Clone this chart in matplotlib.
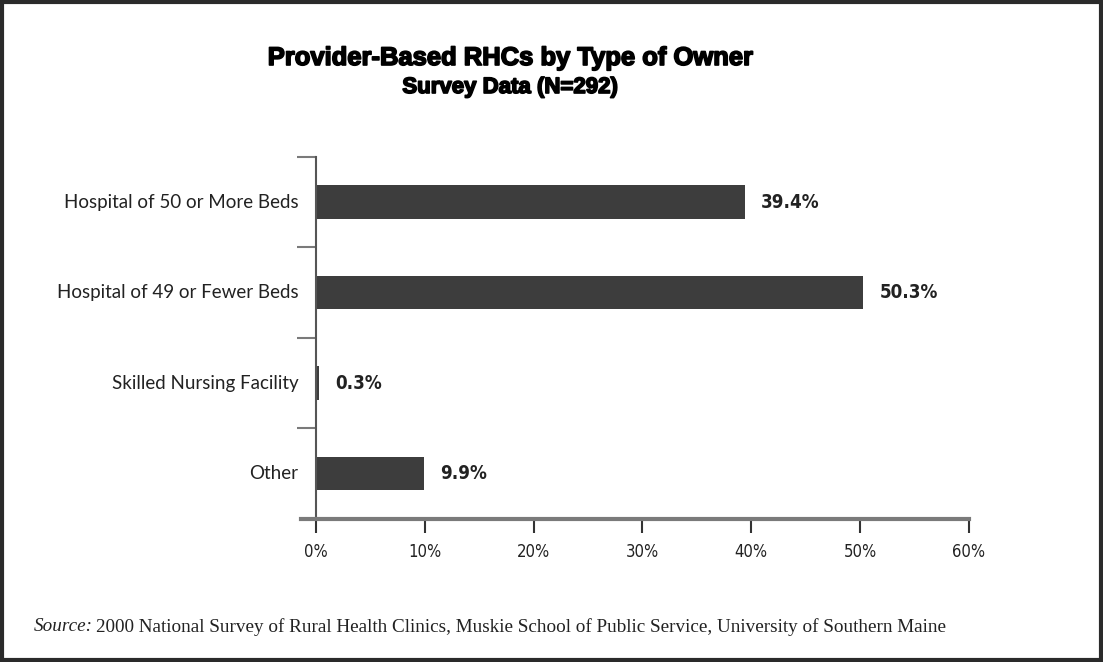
import matplotlib.pyplot as plt
import matplotlib.patheffects as pe
from matplotlib.patches import Rectangle

categories = ["Hospital of 50 or More Beds", "Hospital of 49 or Fewer Beds",
              "Skilled Nursing Facility", "Other"]
values = [39.4, 50.3, 0.3, 9.9]
xticks = [0, 10, 20, 30, 40, 50, 60]

bar_color = "#3d3d3d"
axis_color = "#7a7a7a"

fig = plt.figure(figsize=(11.03, 6.62), dpi=100)
ax = fig.add_axes([0.2865, 0.216, 0.592, 0.547])

ypos = list(range(len(categories)))
ax.barh(ypos, values, height=0.37, color=bar_color)
for y, v in zip(ypos, values):
    ax.text(v + 1.5, y, f"{v:.1f}%", va="center", ha="left",
            fontsize=13.5, fontweight="bold", family="DejaVu Sans",
            fontstretch="condensed", color="#222222")

ax.set_xlim(0, 60)
ax.set_ylim(3.5, -0.5)
ax.set_xticks(xticks)
ax.set_xticklabels([f"{t}%" for t in xticks], family="DejaVu Sans",
                   fontstretch="condensed", fontsize=12, color="#222222")
ax.tick_params(axis="x", direction="out", length=10, width=1.5,
               color="#333333", pad=7)

# category labels sit between the separator ticks
ax.set_yticks([-0.5, 0.5, 1.5, 2.5])
ax.set_yticklabels([])
ax.tick_params(axis="y", direction="out", length=14, width=1.5, color=axis_color)
for y, c in zip(ypos, categories):
    ax.text(-1.6, y, c, ha="right", va="center", fontsize=13.5,
            family="Lato", color="#222222")

for s in ["top", "right"]:
    ax.spines[s].set_visible(False)
ax.spines["left"].set_color("#555555")
ax.spines["left"].set_linewidth(1.5)
ax.spines["bottom"].set_color(axis_color)
ax.spines["bottom"].set_linewidth(3)
ax.spines["bottom"].set_bounds(-1.4, 60)

heavy = [pe.withStroke(linewidth=1.2, foreground="black")]
fig.text(0.4624, 0.9018, "Provider-Based RHCs by Type of Owner", ha="center",
         va="baseline", fontsize=18.4, fontweight="bold",
         family="Liberation Sans", path_effects=heavy)
fig.text(0.4624, 0.8595, "Survey Data (N=292)", ha="center", va="baseline",
         fontsize=16, fontweight="bold", family="Liberation Sans",
         path_effects=heavy)

fig.text(0.031, 0.053, "Source:", fontsize=13.8, family="Liberation Serif",
         style="italic", va="center", color="#222222")
fig.text(0.087, 0.053, "2000 National Survey of Rural Health Clinics, Muskie School of Public Service, University of Southern Maine",
         fontsize=13.8, family="Liberation Serif", va="center", color="#222222")

fig.patches.append(Rectangle((0.002, 0.003), 0.996, 0.994, transform=fig.transFigure,
                             fill=False, edgecolor="#2a2a2a", linewidth=3))

plt.savefig("out.png", dpi=100)
plt.close()
